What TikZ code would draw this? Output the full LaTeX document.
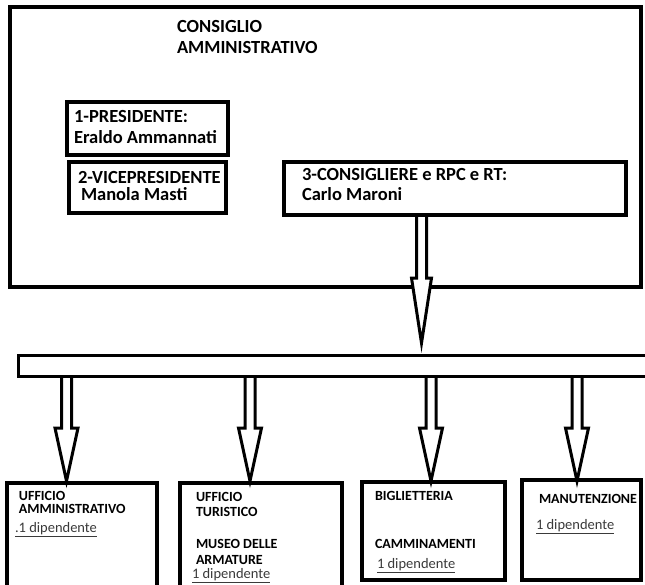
\documentclass[tikz,border=0pt]{standalone}
\usepackage{fontspec}
\setmainfont{Carlito}
\usepackage{xcolor}
\usepackage{tikz}
\usetikzlibrary{calc}

\definecolor{dipgray}{HTML}{3A3A3A}

% hollow block arrow: from, to, head length, shaft half width, head half width
\newcommand{\hollowarrow}[5]{%
\draw[line width=3pt,fill=white,line join=miter] let \p1=(#1), \p2=(#2) in
 (\x1-#4,\y1) -- (\x1-#4,\y2+#3) -- (\x1-#5,\y2+#3) -- (\x1,\y2)
 -- (\x1+#5,\y2+#3) -- (\x1+#4,\y2+#3) -- (\x1+#4,\y1);}

\begin{document}
\begin{tikzpicture}[x=1pt,y=-1pt,line width=4pt,
  big/.style={anchor=base west,inner sep=0pt,font=\bfseries\fontsize{18.5}{20}\selectfont},
  small/.style={anchor=base west,inner sep=0pt,font=\bfseries\fontsize{14}{16}\selectfont},
  dip/.style={anchor=base west,inner sep=0pt,font=\fontsize{14.5}{16}\selectfont,text=dipgray}]
\useasboundingbox (0,0) rectangle (645,584);

\node (CDA)[rectangle,draw,minimum width=631,minimum height=280] at (325.5,147) {};
\node (P1)[rectangle,draw,minimum width=161,minimum height=53] at (147.5,128.5) {};
\node (P2)[rectangle,draw,minimum width=157,minimum height=51] at (147.5,187.5) {};
\node (P3)[rectangle,draw,minimum width=342,minimum height=53] at (455,188.5) {};

\node (BAR)[rectangle,draw,line width=3pt,minimum width=632,minimum height=21] at (334,366) {};

\node (U1)[rectangle,draw,minimum width=150,minimum height=110] at (82,538) {};
\node (U2)[rectangle,draw,minimum width=162,minimum height=110] at (261,538) {};
\node (U3)[rectangle,draw,minimum width=143,minimum height=98] at (433.5,531) {};
\node (U4)[rectangle,draw,minimum width=119,minimum height=100] at (581.5,530) {};

\node (T1)[big] at (175,32) {CONSIGLIO};
\node (T2)[big] at (175,53) {AMMINISTRATIVO};
\node (P1a)[big] at (72,122) {1-PRESIDENTE:};
\node (P1b)[big] at (72,143) {Eraldo Ammannati};
\node (P2a)[big] at (76,183) {2-VICEPRESIDENTE};
\node (P2b)[big] at (79,200.5) {Manola Masti};
\node (P3a)[big] at (300,180) {3-CONSIGLIERE e RPC e RT:};
\node (P3b)[big] at (300,200) {Carlo Maroni};

\node (U1a)[small] at (17,500) {UFFICIO};
\node (U1b)[small] at (17,513) {AMMINISTRATIVO};
\node (U1c)[dip] at (13,532) {\underline{.1 dipendente}};
\node (U2a)[small] at (194,501) {UFFICIO};
\node (U2b)[small] at (194,516) {TURISTICO};
\node (U2c)[small] at (194,548) {MUSEO DELLE};
\node (U2d)[small] at (194,564) {ARMATURE};
\node (U2e)[dip] at (190,578) {\underline{1 dipendente}};
\node (U3a)[small] at (373,500) {BIGLIETTERIA};
\node (U3b)[small] at (373,548) {CAMMINAMENTI};
\node (U3c)[dip] at (375,568) {\underline{1 dipendente}};
\node (U4a)[small] at (537,503) {MANUTENZIONE};
\node (U4c)[dip] at (534,529) {\underline{1 dipendente}};

\coordinate (S0) at (421.5,0);
\coordinate (A0) at (421.5,343);
\coordinate (A1) at (66.5,481);
\coordinate (A2) at (250,481);
\coordinate (A3) at (431,481);
\coordinate (A4) at (577,481);

\hollowarrow{P3.south -| S0}{A0}{65pt}{5pt}{10pt}
\hollowarrow{BAR.south -| A1}{A1}{53pt}{5pt}{11.5pt}
\hollowarrow{BAR.south -| A2}{A2}{53pt}{5pt}{11.5pt}
\hollowarrow{BAR.south -| A3}{A3}{53pt}{5pt}{11.5pt}
\hollowarrow{BAR.south -| A4}{A4}{53pt}{5pt}{11.5pt}
\end{tikzpicture}
\end{document}
